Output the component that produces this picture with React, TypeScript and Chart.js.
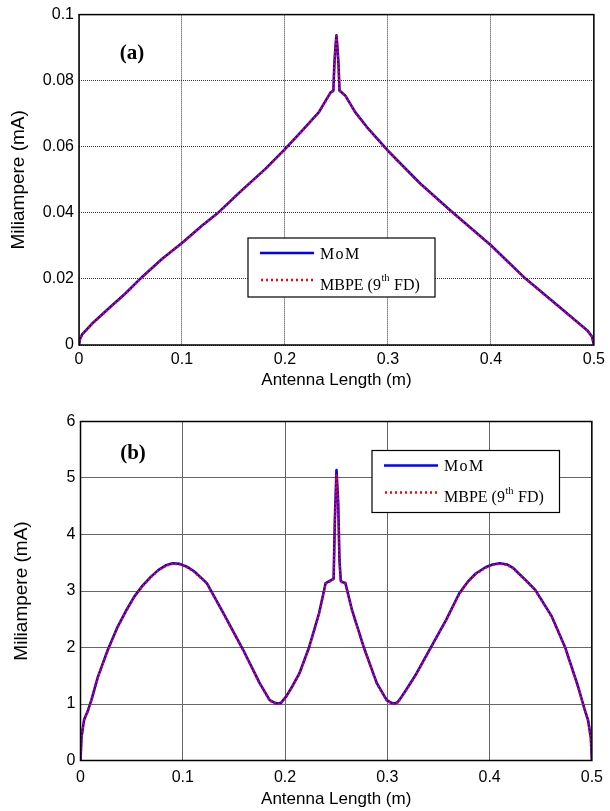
import React, { useEffect, useRef } from 'react';
import { Chart, registerables } from 'chart.js';

Chart.register(...registerables);

// ---------- Panel (a) data ----------
const xA = [
  0, 0.001, 0.003, 0.0128, 0.029, 0.045, 0.0613, 0.0808, 0.1, 0.1196, 0.1357, 0.158, 0.181, 0.2,
  0.2167, 0.2328, 0.2442, 0.247, 0.248, 0.249, 0.25, 0.251, 0.252, 0.253, 0.256, 0.2588, 0.2684,
  0.2798, 0.3, 0.3316, 0.3607, 0.4, 0.4318, 0.4643, 0.4934, 0.4983, 0.5,
];
const momA = [
  0, 0.0018, 0.0032, 0.0065, 0.0111, 0.0156, 0.0206, 0.0261, 0.0309, 0.0362, 0.0402, 0.0468, 0.0533, 0.0593,
  0.0649, 0.0704, 0.0764, 0.077, 0.085, 0.09, 0.0937, 0.09, 0.085, 0.077, 0.0762, 0.0754, 0.0704,
  0.0659, 0.0588, 0.0488, 0.0407, 0.0302, 0.0206, 0.0121, 0.0045, 0.0025, 0,
];
const mbpeA = [
  0, 0.0017, 0.0031, 0.0064, 0.011, 0.0155, 0.0205, 0.026, 0.0308, 0.0361, 0.0401, 0.0467, 0.0532, 0.0592,
  0.0648, 0.0703, 0.0763, 0.0769, 0.085, 0.09, 0.0935, 0.09, 0.085, 0.0769, 0.0761, 0.0753, 0.0703,
  0.0658, 0.0587, 0.0487, 0.0406, 0.0301, 0.0205, 0.012, 0.0044, 0.0024, 0,
];

// ---------- Panel (b) data ----------
const xB = [
  0, 0.001, 0.0035, 0.0074, 0.0106, 0.017, 0.0267, 0.0364, 0.0445, 0.0526, 0.06, 0.0687, 0.076,
  0.083, 0.09, 0.097, 0.104, 0.111, 0.117, 0.1235, 0.1397, 0.159, 0.1752, 0.185, 0.19, 0.193,
  0.196, 0.201, 0.207, 0.214, 0.2236, 0.2333, 0.2397, 0.245, 0.2475, 0.2487, 0.2503, 0.252,
  0.2532, 0.2545, 0.2559, 0.259, 0.2655, 0.2769, 0.2897, 0.2994, 0.304, 0.307, 0.31, 0.314,
  0.3205, 0.3285, 0.3446, 0.3575, 0.3704, 0.3785, 0.3865, 0.396, 0.403, 0.41, 0.417, 0.423,
  0.4285, 0.436, 0.4446, 0.4608, 0.4737, 0.4865, 0.4931, 0.4962, 0.499, 0.5,
];
const momB = [
  0, 0.42, 0.72, 0.89, 1.07, 1.48, 1.96, 2.37, 2.65, 2.9, 3.08, 3.25, 3.37,
  3.45, 3.49, 3.48, 3.43, 3.35, 3.25, 3.14, 2.61, 1.96, 1.37, 1.07, 1.02, 1.01,
  1.02, 1.13, 1.31, 1.54, 2.01, 2.61, 3.14, 3.19, 3.22, 4.26, 5.14, 4.55,
  3.55, 3.18, 3.16, 3.14, 2.66, 2.01, 1.37, 1.07, 1.02, 1.01, 1.03, 1.13,
  1.31, 1.54, 2.07, 2.49, 2.96, 3.16, 3.31, 3.42, 3.47, 3.49, 3.47, 3.41,
  3.31, 3.18, 3.02, 2.55, 2.01, 1.31, 0.89, 0.72, 0.4, 0,
];
const mbpeB = [
  0, 0.41, 0.71, 0.88, 1.06, 1.47, 1.95, 2.36, 2.64, 2.89, 3.07, 3.24, 3.36,
  3.44, 3.48, 3.47, 3.42, 3.34, 3.24, 3.13, 2.6, 1.95, 1.36, 1.06, 1.01, 1.0,
  1.01, 1.12, 1.3, 1.53, 2.0, 2.6, 3.13, 3.18, 3.21, 4.2, 5.05, 4.5,
  3.52, 3.17, 3.15, 3.13, 2.65, 2.0, 1.36, 1.06, 1.01, 1.0, 1.02, 1.12,
  1.3, 1.53, 2.06, 2.48, 2.95, 3.15, 3.3, 3.41, 3.46, 3.48, 3.46, 3.4,
  3.3, 3.17, 3.01, 2.54, 2.0, 1.3, 0.88, 0.71, 0.39, 0,
];

// ---------- Tick labels / text ----------
const xTickLabels = ['0', '0.1', '0.2', '0.3', '0.4', '0.5'];
const yTickLabelsA = ['0', '0.02', '0.04', '0.06', '0.08', '0.1'];
const yTickLabelsB = ['0', '1', '2', '3', '4', '5', '6'];
const seriesNames = ['MoM', 'MBPE (9th FD)'];
const xTitle = 'Antenna Length (m)';
const yTitle = 'Miliampere (mA)';

const SANS = '"Liberation Sans", Arial, sans-serif';
const SERIF = '"Liberation Serif", "Times New Roman", serif';

type PanelCfg = {
  xs: number[];
  mom: number[];
  mbpe: number[];
  yMax: number;
  yStep: number;
  yLabels: string[];
  label: string;
  dotted: boolean;
  height: number;
  padTop: number;
  padRight: number;
  yAxisWidth: number;
  xAxisHeight: number;
  xTickPad: number;
  xTitlePadBottom: number;
  yTitlePadTop: number;
  labelPos: [number, number];
  legendBox: [number, number, number, number];
};

function makePlugin(cfg: PanelCfg) {
  return {
    id: 'matlabFrame',
    afterDraw(chart: any) {
      const { ctx, chartArea: a } = chart;
      ctx.save();
      ctx.setLineDash([]);
      ctx.strokeStyle = '#000';
      ctx.lineWidth = 1.5;
      ctx.strokeRect(a.left, a.top, a.right - a.left, a.bottom - a.top);

      ctx.fillStyle = '#000';
      ctx.font = 'bold 21px ' + SERIF;
      ctx.textAlign = 'center';
      ctx.textBaseline = 'middle';
      ctx.fillText(cfg.label, cfg.labelPos[0], cfg.labelPos[1]);

      const [bx, by, bw, bh] = cfg.legendBox;
      ctx.fillStyle = '#fff';
      ctx.fillRect(bx, by, bw, bh);
      ctx.strokeStyle = '#000';
      ctx.lineWidth = 1.2;
      ctx.strokeRect(bx, by, bw, bh);

      const y1 = by + 15;
      const y2 = by + 42;
      ctx.lineWidth = 2.6;
      ctx.strokeStyle = '#0000ff';
      ctx.beginPath();
      ctx.moveTo(bx + 12, y1);
      ctx.lineTo(bx + 66, y1);
      ctx.stroke();

      ctx.strokeStyle = '#ff0000';
      ctx.setLineDash([2, 3]);
      ctx.beginPath();
      ctx.moveTo(bx + 13, y2);
      ctx.lineTo(bx + 66, y2);
      ctx.stroke();
      ctx.setLineDash([]);

      ctx.fillStyle = '#000';
      ctx.textAlign = 'left';
      ctx.textBaseline = 'alphabetic';
      ctx.font = '16px ' + SERIF;
      const tx = bx + 72;
      ctx.fillText('M\u200Ao\u200AM', tx, y1 + 5.5);
      const base = y2 + 9.5;
      const p1 = 'MBPE (9';
      ctx.fillText(p1, tx, base);
      const w = ctx.measureText(p1).width;
      ctx.font = '10.5px ' + SERIF;
      ctx.fillText('th', tx + w + 0.5, base - 8.5);
      const w2 = ctx.measureText('th').width;
      ctx.font = '16px ' + SERIF;
      ctx.fillText(' FD)', tx + w + w2 + 1, base);
      ctx.restore();
    },
  };
}

function Panel({ cfg }: { cfg: PanelCfg }) {
  const ref = useRef<HTMLCanvasElement | null>(null);
  useEffect(() => {
    if (!ref.current) return;
    const gridColor = cfg.dotted ? '#333' : '#666';
    const dash = cfg.dotted ? [1, 1] : [];
    const chart = new Chart(ref.current, {
      type: 'line',
      data: {
        datasets: [
          {
            label: seriesNames[0],
            data: cfg.xs.map((x, i) => ({ x, y: cfg.mom[i] })),
            borderColor: '#0000ff',
            borderWidth: 2.6,
            pointRadius: 0,
            tension: 0,
            borderJoinStyle: 'round',
            order: 2,
          },
          {
            label: seriesNames[1],
            data: cfg.xs.map((x, i) => ({ x, y: cfg.mbpe[i] })),
            borderColor: '#ff0000',
            borderWidth: 2.2,
            borderDash: [2, 2],
            pointRadius: 0,
            tension: 0,
            borderJoinStyle: 'round',
            order: 1,
          },
        ],
      },
      options: {
        animation: false,
        responsive: false,
        events: [],
        layout: { padding: { top: cfg.padTop, right: cfg.padRight, left: 0, bottom: 0 } },
        plugins: { legend: { display: false }, tooltip: { enabled: false } },
        scales: {
          x: {
            type: 'linear',
            min: 0,
            max: 0.5,
            afterFit: (s: any) => {
              s.height = cfg.xAxisHeight;
            },
            ticks: {
              stepSize: 0.1,
              autoSkip: false,
              maxRotation: 0,
              padding: cfg.xTickPad,
              color: '#000',
              font: { family: SANS, size: 16 },
              callback: (_v: any, i: number) => xTickLabels[i],
            },
            grid: { color: gridColor, lineWidth: 1, drawTicks: false },
            border: { display: false, dash },
            title: {
              display: true,
              text: xTitle,
              color: '#000',
              font: { family: SANS, size: 17 },
              padding: { top: 0, bottom: cfg.xTitlePadBottom },
            },
          },
          y: {
            type: 'linear',
            min: 0,
            max: cfg.yMax,
            afterFit: (s: any) => {
              s.width = cfg.yAxisWidth;
            },
            ticks: {
              stepSize: cfg.yStep,
              autoSkip: false,
              padding: 5,
              color: '#000',
              font: { family: SANS, size: 16 },
              callback: (_v: any, i: number) => cfg.yLabels[i],
            },
            grid: { color: gridColor, lineWidth: 1, drawTicks: false },
            border: { display: false, dash },
            title: {
              display: true,
              text: yTitle,
              color: '#000',
              font: { family: SANS, size: 19 },
              padding: { top: cfg.yTitlePadTop, bottom: 0 },
            },
          },
        },
      },
      plugins: [makePlugin(cfg)],
    } as any);
    return () => chart.destroy();
  }, [cfg]);
  return <canvas ref={ref} width={610} height={cfg.height} style={{ display: 'block' }} />;
}

const panelA: PanelCfg = {
  xs: xA,
  mom: momA,
  mbpe: mbpeA,
  yMax: 0.1,
  yStep: 0.02,
  yLabels: yTickLabelsA,
  label: '(a)',
  dotted: true,
  height: 405,
  padTop: 13.5,
  padRight: 15,
  yAxisWidth: 79,
  xAxisHeight: 60,
  xTickPad: 5,
  xTitlePadBottom: 14,
  yTitlePadTop: 7,
  labelPos: [132, 54],
  legendBox: [248, 238, 187, 59],
};

const panelB: PanelCfg = {
  xs: xB,
  mom: momB,
  mbpe: mbpeB,
  yMax: 6,
  yStep: 1,
  yLabels: yTickLabelsB,
  label: '(b)',
  dotted: false,
  height: 406,
  padTop: 16.5,
  padRight: 12.5,
  yAxisWidth: 80.5,
  xAxisHeight: 50.5,
  xTickPad: 7,
  xTitlePadBottom: 1,
  yTitlePadTop: 10,
  labelPos: [133, 48.5],
  legendBox: [372, 45.5, 187.5, 62],
};

export default function App() {
  return (
    <div style={{ position: 'absolute', left: 0, top: 0, width: 610, height: 811, background: '#fff' }}>
      <Panel cfg={panelA} />
      <Panel cfg={panelB} />
    </div>
  );
}
